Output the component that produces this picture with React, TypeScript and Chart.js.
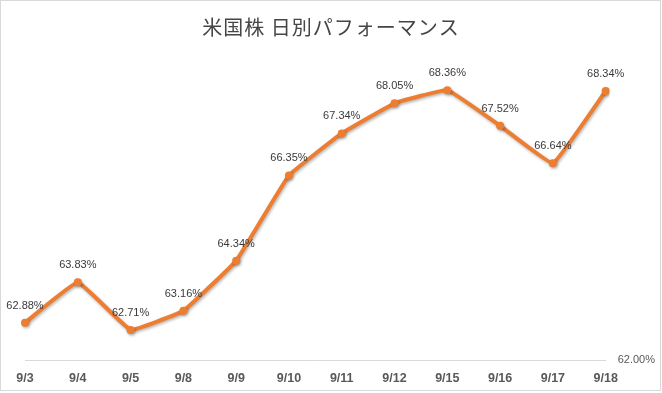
import React, { useEffect, useRef } from "react";
import { Chart, registerables } from "chart.js";

Chart.register(...registerables);

const TITLE = "米国株 日別パフォーマンス";
const categories = ["9/3", "9/4", "9/5", "9/8", "9/9", "9/10", "9/11", "9/12", "9/15", "9/16", "9/17", "9/18"];
const performance = [62.88, 63.83, 62.71, 63.16, 64.34, 66.35, 67.34, 68.05, 68.36, 67.52, 66.64, 68.34];
const yMin = 62;
const yMax = 69;
const yTickLabel = "62.00%";

const LINE_COLOR = "#ED7D31";

const framePlugin = {
  id: "frame",
  beforeDraw(chart: any) {
    const { ctx, width, height } = chart;
    ctx.save();
    ctx.fillStyle = "#ffffff";
    ctx.fillRect(0, 0, width, height);
    ctx.strokeStyle = "#d9d9d9";
    ctx.lineWidth = 1;
    ctx.strokeRect(0.5, 0.5, width - 2, height - 3);
    ctx.restore();
  },
  afterDraw(chart: any) {
    const { ctx } = chart;
    ctx.save();
    ctx.font = '20px "Noto Sans CJK JP"';
    (ctx as any).letterSpacing = "1px";
    ctx.fillStyle = "#454545";
    ctx.textAlign = "center";
    ctx.textBaseline = "middle";
    ctx.fillText(TITLE, 331, 27);
    ctx.restore();
  },
};

const shadowPlugin = {
  id: "lineShadow",
  beforeDatasetsDraw(chart: any) {
    const ctx = chart.ctx;
    ctx.save();
    ctx.shadowColor = "rgba(0,0,0,0.3)";
    ctx.shadowBlur = 3;
    ctx.shadowOffsetX = 1;
    ctx.shadowOffsetY = 1.5;
  },
  afterDatasetsDraw(chart: any) {
    chart.ctx.restore();
  },
};

const dataLabelPlugin = {
  id: "dataLabels",
  afterDatasetsDraw(chart: any) {
    const { ctx } = chart;
    const meta = chart.getDatasetMeta(0);
    const data = chart.data.datasets[0].data as number[];
    ctx.save();
    ctx.font = '11px "Liberation Sans"';
    ctx.fillStyle = "#3a3a3a";
    ctx.textAlign = "center";
    ctx.textBaseline = "middle";
    meta.data.forEach((pt: any, i: number) => {
      ctx.fillText(data[i].toFixed(2) + "%", pt.x, pt.y - 17);
    });
    ctx.restore();
  },
};

export default function App() {
  const ref = useRef<HTMLCanvasElement | null>(null);
  useEffect(() => {
    document.body.style.margin = "0";
    if (!ref.current) return;
    const chart = new Chart(ref.current, {
      type: "line",
      data: {
        labels: categories,
        datasets: [
          {
            data: performance,
            borderColor: LINE_COLOR,
            backgroundColor: LINE_COLOR,
            borderWidth: 4,
            pointRadius: 4,
            pointBackgroundColor: LINE_COLOR,
            pointBorderColor: LINE_COLOR,
            pointBorderWidth: 0,
            tension: 0.08,
            yAxisID: "y",
          },
        ],
      },
      options: {
        animation: false,
        responsive: true,
        maintainAspectRatio: false,
        layout: { padding: { top: 63, left: 25, right: -5, bottom: -4 } },
        plugins: {
          legend: { display: false },
          title: { display: false },
          tooltip: { enabled: false },
        },
        scales: {
          x: {
            offset: false,
            grid: { display: false, drawTicks: false },
            border: { display: true, color: "#d9d9d9", width: 1 },
            ticks: {
              padding: 11,
              color: "#595959",
              font: { family: '"Liberation Sans"', size: 12.5, weight: "bold" },
              maxRotation: 0,
              autoSkip: false,
            },
          },
          y: {
            position: "right",
            min: yMin,
            max: yMax,
            grid: { display: false, drawTicks: false },
            border: { display: false },
            afterBuildTicks(axis: any) {
              axis.ticks = [{ value: yMin }];
            },
            ticks: {
              padding: 12,
              color: "#595959",
              font: { family: '"Liberation Sans"', size: 11 },
              callback: (v: any) => (v === yMin ? yTickLabel : ""),
            },
          },
        },
      },
      plugins: [framePlugin, shadowPlugin, dataLabelPlugin],
    });
    return () => chart.destroy();
  }, []);
  return (
    <div style={{ position: "relative", width: 662, height: 393 }}>
      <canvas ref={ref} />
    </div>
  );
}
